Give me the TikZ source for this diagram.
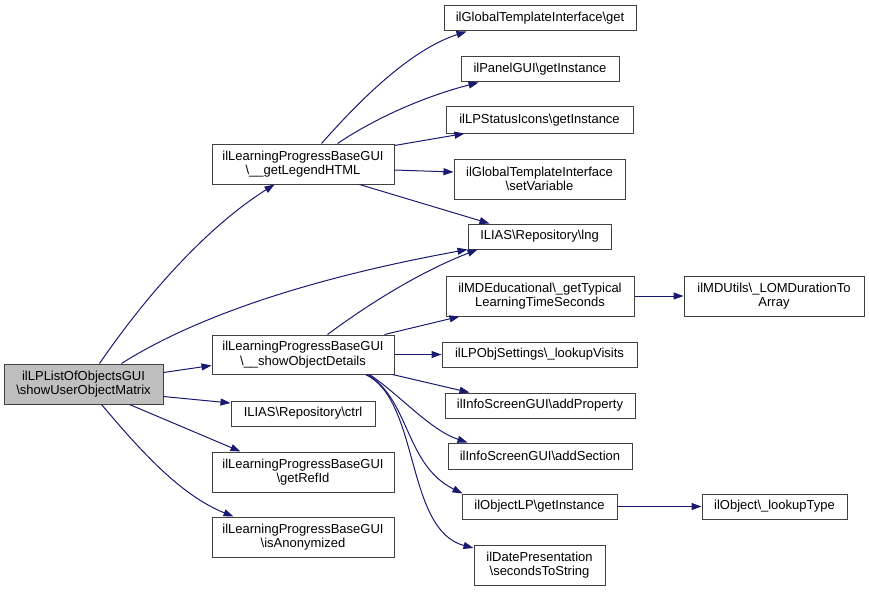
\documentclass[tikz,border=0pt]{standalone}
\usepackage{fontspec}
\setmainfont{Liberation Sans}
\usetikzlibrary{arrows.meta,calc}
\definecolor{edgec}{HTML}{191970}
\definecolor{boxc}{HTML}{404040}
\definecolor{rootc}{HTML}{BFBFBF}
\newcommand{\bs}{\textbackslash}
\tikzset{
  fn/.style={draw=boxc, line width=1pt, fill=white, inner sep=0pt, align=center,
    font=\fontsize{13}{14.5}\selectfont, anchor=center},
  rootbox/.style={fn, fill=rootc},
  edge/.style={draw=edgec, line width=1pt, -{Triangle[length=10pt,width=7pt]}},
}
\begin{document}
\begin{tikzpicture}[x=1pt,y=-1pt]
\useasboundingbox (0,0) rectangle (869,591);
\node[rootbox, minimum width=159pt, minimum height=40pt] (root) at (83.5,384) {ilLPListOfObjectsGUI\\\bs showUserObjectMatrix};
\node[fn, minimum width=182pt, minimum height=40pt] (legend) at (303,164) {ilLearningProgressBaseGUI\\\bs\_\_getLegendHTML};
\node[fn, minimum width=182pt, minimum height=39pt] (details) at (303,354.5) {ilLearningProgressBaseGUI\\\bs\_\_showObjectDetails};
\node[fn, minimum width=144pt, minimum height=25pt] (ctrl) at (303,413.5) {ILIAS\bs Repository\bs ctrl};
\node[fn, minimum width=182pt, minimum height=40pt] (refid) at (303,472) {ilLearningProgressBaseGUI\\\bs getRefId};
\node[fn, minimum width=182pt, minimum height=40pt] (anon) at (303,537) {ilLearningProgressBaseGUI\\\bs isAnonymized};
\node[fn, minimum width=192pt, minimum height=25pt] (get) at (540,18.5) {ilGlobalTemplateInterface\bs get};
\node[fn, minimum width=158pt, minimum height=25pt] (panel) at (540,69.5) {ilPanelGUI\bs getInstance};
\node[fn, minimum width=187pt, minimum height=26pt] (status) at (539.5,120) {ilLPStatusIcons\bs getInstance};
\node[fn, minimum width=171pt, minimum height=40pt] (setvar) at (539.5,179) {ilGlobalTemplateInterface\\\bs setVariable};
\node[fn, minimum width=143pt, minimum height=25pt] (lng) at (539.5,236.5) {ILIAS\bs Repository\bs lng};
\node[fn, minimum width=188pt, minimum height=40pt] (mdedu) at (540,296) {ilMDEducational\bs\_getTypical\\LearningTimeSeconds};
\node[fn, minimum width=195pt, minimum height=25pt] (lpobj) at (539.5,354.5) {ilLPObjSettings\bs\_lookupVisits};
\node[fn, minimum width=190pt, minimum height=25pt] (addprop) at (540,405.5) {ilInfoScreenGUI\bs addProperty};
\node[fn, minimum width=184pt, minimum height=26pt] (addsec) at (540,456) {ilInfoScreenGUI\bs addSection};
\node[fn, minimum width=155pt, minimum height=25pt] (objlp) at (539.5,506.5) {ilObjectLP\bs getInstance};
\node[fn, minimum width=131pt, minimum height=40pt] (datepres) at (539.5,565) {ilDatePresentation\\\bs secondsToString};
\node[fn, minimum width=180pt, minimum height=40pt] (lom) at (774,296) {ilMDUtils\bs\_LOMDurationTo\\Array};
\node[fn, minimum width=145pt, minimum height=25pt] (lookup) at (774.5,506.5) {ilObject\bs\_lookupType};

% root edges
\draw[edge] ($(root.north west)+(96,0)$) .. controls (150,290) and (210,225) .. ($(legend.south west)+(63,0)$);
\draw[edge] ($(root.north west)+(118,0)$) .. controls (190,320) and (300,280) .. (lng.south west);
\draw[edge] ($(root.north east)+(0,9)$) -- ($(details.north west)+(0,31)$);
\draw[edge] ($(root.south east)+(0,-8)$) -- ($(ctrl.west)+(0,-10.5)$);
\draw[edge] ($(root.south west)+(126,0)$) -- ($(refid.north west)+(29,0)$);
\draw[edge] ($(root.south west)+(98,0)$) .. controls (140,450) and (180,495) .. ($(anon.north west)+(22,0)$);
% legend edges
\draw[edge] ($(legend.north west)+(110,0)$) .. controls (360,100) and (410,50) .. ($(get.south west)+(23,0)$);
\draw[edge] ($(legend.north west)+(126,0)$) .. controls (380,115) and (430,95) .. ($(panel.south west)+(18,0)$);
\draw[edge] ($(legend.north east)+(0,2)$) -- ($(status.south west)+(19,0)$);
\draw[edge] ($(legend.east)+(0,6)$) -- ($(setvar.west)+(0,-7)$);
\draw[edge] ($(legend.south west)+(148,0)$) -- ($(lng.north west)+(22,0)$);
% details edges
\draw[edge] ($(details.north west)+(116,0)$) .. controls (370,303) and (420,272) .. ($(lng.south west)+(10,0)$);
\draw[edge] ($(details.north west)+(173,0)$) -- ($(mdedu.south west)+(14,0)$);
\draw[edge] (details.east) -- (lpobj.west);
\draw[edge] ($(details.south east)+(-2,0)$) -- ($(addprop.north west)+(25,0)$);
\draw[edge] ($(details.south west)+(158,0)$) .. controls (400,395) and (430,430) .. ($(addsec.north west)+(20,0)$);
\draw[edge] ($(details.south west)+(156,0)$) .. controls (410,400) and (405,465) .. ($(objlp.north west)+(1,0)$);
\draw[edge] ($(details.south west)+(154,0)$) .. controls (420,400) and (405,530) .. ($(datepres.west)+(0,-17)$);
% others
\draw[edge] (mdedu.east) -- (lom.west);
\draw[edge] (objlp.east) -- (lookup.west);
\end{tikzpicture}
\end{document}
